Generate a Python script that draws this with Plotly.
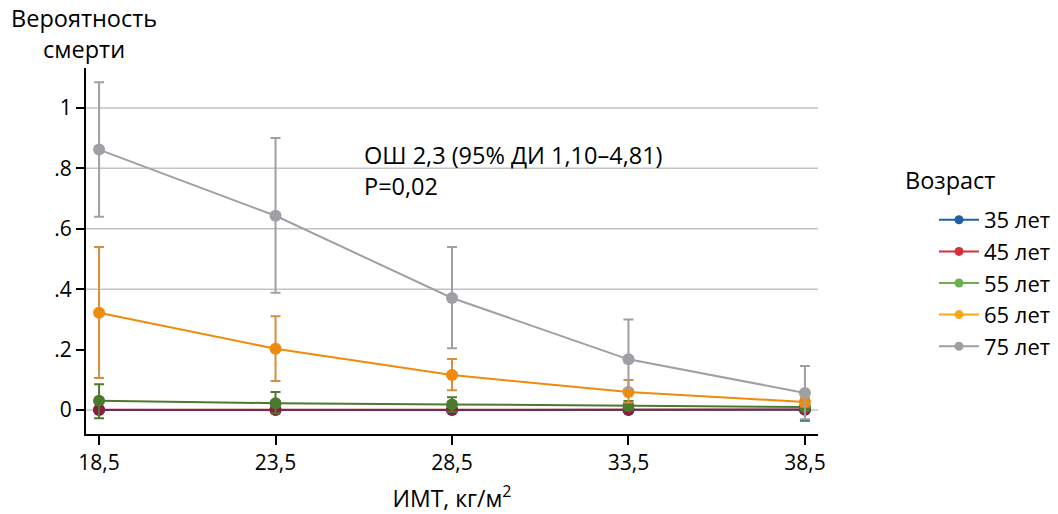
import plotly.graph_objects as go

# Data
bmi = [18.5, 23.5, 28.5, 33.5, 38.5]
bmi_labels = ["18,5", "23,5", "28,5", "33,5", "38,5"]
y_ticks = [0, 0.2, 0.4, 0.6, 0.8, 1.0]
y_tick_labels = ["0", ".2", ".4", ".6", ".8", "1"]
grid_levels = [0, 0.4, 0.6, 0.8, 1.0]

age_names = ["35 лет", "45 лет", "55 лет", "65 лет", "75 лет"]

p35 = [0.000, 0.000, 0.000, 0.000, 0.001]
hi35 = [0.004, 0.004, 0.004, 0.004, 0.006]
lo35 = [-0.004, -0.004, -0.004, -0.004, -0.035]

p45 = [0.001, 0.001, 0.001, 0.001, 0.002]
hi45 = [0.006, 0.005, 0.005, 0.005, 0.008]
lo45 = [-0.006, -0.005, -0.005, -0.005, -0.006]

p55 = [0.031, 0.023, 0.019, 0.014, 0.010]
hi55 = [0.086, 0.060, 0.043, 0.030, 0.020]
lo55 = [-0.027, -0.010, -0.005, 0.000, 0.000]

p65 = [0.322, 0.203, 0.116, 0.060, 0.027]
hi65 = [0.540, 0.311, 0.169, 0.100, 0.040]
lo65 = [0.106, 0.096, 0.066, 0.025, 0.012]

p75 = [0.862, 0.643, 0.371, 0.168, 0.057]
hi75 = [1.085, 0.900, 0.540, 0.300, 0.146]
lo75 = [0.640, 0.388, 0.205, 0.070, -0.030]

series = [p35, p45, p55, p65, p75]
highs = [hi35, hi45, hi55, hi65, hi75]
lows = [lo35, lo45, lo55, lo65, lo75]

legend_colors = ["#1f5fa6", "#d62e3a", "#6ab04c", "#ffa719", "#a0a0a4"]
plot_colors = ["#2a5f8f", "#8e1c3c", "#4c7a2c", "#f08a0c", "#a0a0a4"]
err_colors = ["#2a6f6f", "#8e1c3c", "#4c7a2c", "#d98c3a", "#a0a0a4"]

FONT = "Open Sans"
TXT = "#000"

# plot area in pixels: left 86, right 818, top 68, bottom 434
PL, PR, PT, PB = 86, 818, 68, 434


def px_x(px):
    return (px - PL) / (PR - PL)


def px_y(py):
    return (PB - py) / (PB - PT)


fig = go.Figure()

for name, p, hi, lo, pc, ec in zip(age_names, series, highs, lows, plot_colors, err_colors):
    up = [h - v for h, v in zip(hi, p)]
    dn = [v - l for v, l in zip(p, lo)]
    fig.add_trace(go.Scatter(
        x=bmi, y=p, mode="lines+markers", name=name, showlegend=False,
        line=dict(color=pc, width=2),
        marker=dict(color=pc, size=12),
        error_y=dict(type="data", symmetric=False, array=up, arrayminus=dn,
                     color=ec, thickness=2, width=5),
    ))

for name, lc in zip(age_names, legend_colors):
    fig.add_trace(go.Scatter(
        x=[None], y=[None], mode="lines+markers", name=name,
        line=dict(color=lc, width=2), marker=dict(color=lc, size=9),
    ))

for g in grid_levels:
    fig.add_shape(type="line", xref="paper", yref="y", x0=0, x1=1, y0=g, y1=g,
                  line=dict(color="#c4c4c4", width=1.5), layer="below")

texts = [
    ("ОШ 2,3 (95% ДИ 1,10–4,81)<br>P=0,02", 362, 170, "left", "left"),
    ("Вероятность<br>смерти", 84, 33, "center", "center"),
    ("Возраст", 903, 180, "left", "left"),
]
for t, xpx, ypx, anc, al in texts:
    fig.add_annotation(
        xref="paper", yref="paper", x=px_x(xpx), y=px_y(ypx),
        xanchor=anc, yanchor="middle", align=al, showarrow=False, text=t,
        font=dict(family=FONT, size=23.5, color=TXT),
    )

fig.update_layout(
    width=1058, height=514,
    margin=dict(l=PL, r=1058 - PR, t=PT, b=514 - PB, autoexpand=False),
    paper_bgcolor="white", plot_bgcolor="white",
    font=dict(family=FONT, size=21, color=TXT),
    legend=dict(
        x=px_x(934), xanchor="left", y=px_y(199), yanchor="top",
        font=dict(family=FONT, size=22, color=TXT),
        itemwidth=40, tracegroupgap=0,
    ),
    xaxis=dict(
        range=[18.13, 38.87], tickvals=bmi, ticktext=bmi_labels,
        showline=True, linecolor="black", linewidth=2,
        ticks="outside", ticklen=9, tickwidth=2, tickcolor="black",
        showgrid=False, zeroline=False, automargin=False,
        tickfont=dict(family=FONT, size=21, color=TXT),
        title=dict(text="ИМТ, кг/м<sup>2</sup>", font=dict(family=FONT, size=23, color=TXT), standoff=18),
    ),
    yaxis=dict(
        range=[-0.079, 1.132], tickvals=y_ticks, ticktext=y_tick_labels,
        showline=True, linecolor="black", linewidth=2,
        ticks="outside", ticklen=8, tickwidth=2, tickcolor="black",
        showgrid=False, zeroline=False, automargin=False,
        tickfont=dict(family=FONT, size=21, color=TXT),
    ),
)

fig.write_html("out.html")
